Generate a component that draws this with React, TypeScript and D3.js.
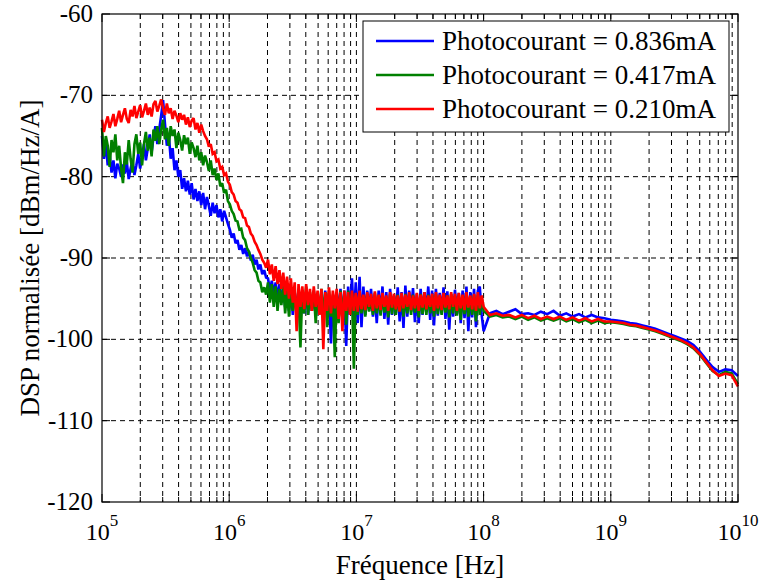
import React from "react";
import * as d3 from "d3";

// log10 of frequency (Hz) for each sample
const LOG_FREQ = [
  5.000, 5.015, 5.030, 5.045, 5.060, 5.075, 5.090, 5.105, 5.120, 5.135,
  5.150, 5.165, 5.180, 5.195, 5.210, 5.225, 5.240, 5.255, 5.270, 5.285,
  5.300, 5.315, 5.330, 5.345, 5.360, 5.375, 5.390, 5.405, 5.420, 5.435,
  5.450, 5.465, 5.480, 5.495, 5.510, 5.525, 5.540, 5.555, 5.570, 5.585,
  5.600, 5.615, 5.630, 5.645, 5.660, 5.675, 5.690, 5.705, 5.720, 5.735,
  5.750, 5.765, 5.780, 5.795, 5.810, 5.825, 5.840, 5.855, 5.870, 5.885,
  5.900, 5.915, 5.930, 5.945, 5.960, 5.975, 5.990, 6.005, 6.020, 6.035,
  6.050, 6.065, 6.080, 6.095, 6.110, 6.125, 6.140, 6.155, 6.170, 6.185,
  6.200, 6.215, 6.230, 6.245, 6.260, 6.275, 6.290, 6.305, 6.320, 6.335,
  6.350, 6.365, 6.380, 6.395, 6.410, 6.425, 6.440, 6.455, 6.470, 6.485,
  6.500, 6.515, 6.530, 6.545, 6.560, 6.575, 6.590, 6.605, 6.620, 6.635,
  6.650, 6.665, 6.680, 6.695, 6.710, 6.725, 6.740, 6.755, 6.770, 6.785,
  6.800, 6.815, 6.830, 6.845, 6.860, 6.875, 6.890, 6.905, 6.920, 6.935,
  6.950, 6.965, 6.980, 6.995, 7.010, 7.025, 7.040, 7.055, 7.070, 7.085,
  7.100, 7.115, 7.130, 7.145, 7.160, 7.175, 7.190, 7.205, 7.220, 7.235,
  7.250, 7.265, 7.280, 7.295, 7.310, 7.325, 7.340, 7.355, 7.370, 7.385,
  7.400, 7.415, 7.430, 7.445, 7.460, 7.475, 7.490, 7.505, 7.520, 7.535,
  7.550, 7.565, 7.580, 7.595, 7.610, 7.625, 7.640, 7.655, 7.670, 7.685,
  7.700, 7.715, 7.730, 7.745, 7.760, 7.775, 7.790, 7.805, 7.820, 7.835,
  7.850, 7.865, 7.880, 7.895, 7.910, 7.925, 7.940, 7.955, 7.970, 7.985,
  8.000,
  8.05, 8.10, 8.15, 8.20, 8.25, 8.30, 8.35, 8.40, 8.45, 8.50,
  8.55, 8.60, 8.65, 8.70, 8.75, 8.80, 8.85, 8.90, 8.95, 9.00,
  9.05, 9.10, 9.15, 9.20, 9.25, 9.30, 9.35, 9.40, 9.45, 9.50,
  9.55, 9.60, 9.65, 9.70, 9.75, 9.80, 9.85, 9.90, 9.95, 10.00,
];

// Photocourant = 0.836 mA (blue), dBm/Hz/A
const DSP_0836 = [
  -75.0, -77.8, -76.0, -78.6, -77.2, -79.5, -78.0, -80.2, -78.4, -79.0,
  -80.0, -78.5, -79.6, -78.2, -80.3, -79.0, -78.0, -79.8, -78.6, -77.2,
  -79.0, -77.5, -76.0, -78.0, -76.5, -74.8, -77.0, -75.2, -73.8, -76.0,
  -74.2, -72.5, -70.6, -73.5, -76.2, -74.8, -77.8, -76.5, -79.2, -78.0,
  -80.0, -79.2, -81.5, -80.2, -81.8, -80.5, -82.2, -80.8, -82.8, -81.5,
  -83.0, -81.8, -83.5, -82.0, -84.0, -82.5, -83.6, -84.8, -83.2, -84.5,
  -83.5, -85.0, -84.0, -85.5, -84.2, -85.0, -85.8, -86.5, -87.5, -87.0,
  -88.2, -87.8, -89.0, -88.4, -89.5, -88.8, -89.8, -89.2, -90.3, -89.6,
  -90.8, -90.2, -91.4, -90.8, -92.0, -91.5, -92.4,
  -92.5, -94.0, -92.8, -94.5, -93.0, -95.0, -93.2, -95.5, -93.5, -96.0,
  -93.8, -96.5, -94.0, -97.0, -94.2, -96.5, -94.0, -97.8, -94.5, -96.8,
  -94.2, -97.0, -94.5, -96.5, -94.0, -97.2, -94.8, -96.8, -94.2, -97.5,
  -94.0, -97.0, -94.5, -100.5, -94.8, -97.2, -94.2, -96.8, -93.8, -97.5,
  -94.0, -100.8, -93.5, -97.0, -92.5, -97.5, -93.0, -98.0, -92.3, -98.5,
  -93.5, -97.0, -94.0, -96.5, -93.8, -97.2, -94.5, -98.0, -94.0, -96.8,
  -93.5, -97.5, -94.2, -98.2, -93.8, -97.0, -94.6, -96.8, -93.6, -97.8,
  -94.2, -98.6, -93.4, -97.2, -94.0, -96.6, -93.7, -97.9, -94.4, -98.0,
  -93.8, -97.0, -94.2, -96.5, -93.5, -97.6, -94.0, -98.3, -93.8, -97.1,
  -94.3, -96.8, -93.6, -97.5, -94.1, -98.8, -94.5, -97.2, -93.9, -96.9,
  -94.3, -98.0, -94.0, -97.4, -93.5, -99.0, -94.2, -97.3, -93.8, -98.5,
  -94.0, -93.5, -97.0, -99.0,
  -96.8, -96.5, -96.9, -96.6, -96.3, -96.9, -96.8, -97.0, -96.6, -96.9,
  -96.5, -97.1, -96.8, -97.2, -96.9, -97.3, -97.0, -97.3, -97.4, -97.6,
  -97.7, -97.8, -98.0, -98.1, -98.3, -98.5, -98.7, -99.0, -99.3, -99.6,
  -99.9, -100.2, -100.7, -101.5, -102.5, -103.4, -104.0, -103.7, -103.8, -104.5,
];

// Photocourant = 0.417 mA (green), dBm/Hz/A
const DSP_0417 = [
  -74.0, -77.5, -75.0, -76.2, -78.8, -75.5, -77.0, -74.8, -78.0, -76.2,
  -79.0, -80.8, -77.0, -78.5, -75.5, -77.8, -79.5, -76.0, -74.8, -77.2,
  -75.8, -78.6, -76.0, -74.5, -76.8, -75.2, -77.5, -74.2, -75.6, -73.8,
  -76.0, -74.3, -73.0, -75.4, -74.0, -76.2, -73.8, -75.0, -74.2, -76.5,
  -74.6, -75.5, -76.8, -74.9, -76.0, -75.2, -77.2, -75.8, -76.5, -77.6,
  -76.2, -78.0, -77.0, -78.6, -77.4, -78.2, -79.3, -78.0, -79.8, -79.0,
  -80.4, -79.6, -81.2, -80.8, -82.0, -81.6, -83.0, -83.4, -84.2, -84.6,
  -85.4, -85.5, -86.5, -86.4, -87.5, -87.8, -88.8, -89.2, -90.0, -90.6,
  -91.5, -91.8, -92.8, -93.0, -94.2, -93.6, -94.5,
  -93.0, -95.5, -93.2, -96.0, -93.5, -96.5, -93.8, -95.8, -93.5, -96.8,
  -94.0, -97.2, -93.8, -96.5, -94.2, -97.0, -94.5, -101.0, -94.0, -96.8,
  -93.5, -97.0, -94.2, -96.5, -94.0, -98.0, -94.5, -96.8, -93.8, -97.5,
  -94.2, -98.5, -94.0, -97.2, -94.5, -102.2, -94.2, -98.0, -94.0, -97.0,
  -94.5, -98.2, -94.0, -96.8, -94.3, -103.6, -94.5, -97.0, -94.2, -96.8,
  -94.6, -97.2, -94.4, -96.6, -94.8, -97.0, -94.3, -96.8, -94.6, -97.1,
  -94.5, -96.7, -94.8, -97.3, -94.4, -96.9, -94.7, -97.0, -94.5, -96.6,
  -94.8, -97.2, -94.4, -96.8, -94.6, -97.0, -94.5, -96.7, -94.8, -97.3,
  -94.4, -96.9, -94.7, -97.0, -94.5, -96.8, -94.6, -97.2, -94.4, -96.9,
  -94.8, -97.0, -94.5, -96.7, -94.6, -97.3, -94.4, -96.8, -94.7, -97.1,
  -94.5, -97.6, -94.6, -96.9, -94.4, -97.2, -94.7, -97.0, -94.5, -97.8,
  -94.6, -97.0, -94.8, -96.5,
  -97.2, -97.0, -97.3, -97.2, -97.5, -97.2, -97.6, -97.3, -97.7, -97.4,
  -97.7, -97.4, -97.8, -97.5, -97.9, -97.6, -98.0, -97.7, -98.0, -97.9,
  -98.0, -98.1, -98.3, -98.4, -98.6, -98.8, -99.0, -99.3, -99.6, -99.9,
  -100.2, -100.6, -101.1, -101.9, -102.9, -103.9, -104.4, -104.0, -104.2, -105.5,
];

// Photocourant = 0.210 mA (red), dBm/Hz/A
const DSP_0210 = [
  -73.0, -74.5, -73.4, -72.6, -74.0, -73.2, -72.3, -73.8, -72.9, -71.9,
  -73.3, -72.4, -71.6, -72.9, -73.4, -71.8, -72.6, -71.3, -72.8, -72.0,
  -71.2, -72.7, -71.9, -71.0, -72.4, -71.5, -72.6, -71.1, -70.7, -72.0,
  -71.3, -70.5, -71.6, -72.4, -71.0, -72.2, -71.6, -72.9, -71.9, -72.5,
  -73.3, -72.2, -73.0, -72.4, -73.6, -72.7, -73.9, -73.1, -72.8, -74.2,
  -73.4, -74.6, -73.6, -74.4, -75.0, -75.4, -76.3, -76.0, -77.2, -77.0,
  -78.1, -77.9, -79.0, -78.8, -79.8, -79.6, -80.6, -81.0, -81.9, -82.2,
  -83.0, -83.2, -84.0, -84.2, -85.0, -85.1, -86.0, -86.2, -87.0, -87.3,
  -88.0, -88.4, -89.0, -89.5, -90.2, -90.6, -91.2,
  -90.2, -92.0, -90.8, -92.8, -91.0, -93.2, -91.5, -93.8, -91.8, -94.5,
  -92.3, -95.0, -92.5, -95.5, -93.0, -99.0, -93.2, -96.0, -93.5, -96.3,
  -93.2, -95.8, -93.8, -96.5, -93.5, -96.0, -94.0, -97.0, -93.8, -101.2,
  -94.2, -96.5, -93.6, -96.8, -94.0, -96.2, -93.8, -97.5, -94.2, -99.0,
  -94.0, -96.5, -94.2, -97.0, -94.0, -96.5, -94.3, -96.6, -94.0, -96.3,
  -94.5, -96.4, -94.2, -96.0, -94.4, -96.5, -94.1, -96.2, -94.5, -96.4,
  -94.3, -96.0, -94.6, -96.5, -94.2, -96.1, -94.4, -96.3, -94.6, -96.6,
  -94.3, -96.2, -94.5, -96.0, -94.2, -96.4, -94.6, -96.2, -94.3, -96.5,
  -94.5, -96.1, -94.2, -96.3, -94.6, -96.0, -94.4, -96.5, -94.2, -96.2,
  -94.5, -96.4, -94.3, -96.1, -94.6, -96.3, -94.2, -96.0, -94.4, -96.5,
  -94.3, -96.2, -94.5, -96.4, -94.2, -96.1, -94.6, -96.3, -94.4, -96.5,
  -94.2, -96.2, -94.6, -96.0,
  -97.0, -96.8, -97.1, -97.0, -97.3, -97.0, -97.4, -97.1, -97.5, -97.2,
  -97.5, -97.2, -97.6, -97.3, -97.7, -97.4, -97.8, -97.5, -97.8, -97.8,
  -97.9, -98.0, -98.2, -98.3, -98.5, -98.7, -98.9, -99.2, -99.5, -99.8,
  -100.1, -100.5, -101.0, -101.8, -102.8, -103.8, -104.5, -104.2, -104.4, -105.8,
];

const SERIES_NAMES = [
  "Photocourant = 0.836mA",
  "Photocourant = 0.417mA",
  "Photocourant = 0.210mA",
];
const SERIES_COLORS = ["#0000ff", "#008000", "#ff0000"];
const Y_TICKS = [-120, -110, -100, -90, -80, -70, -60];
const X_DECADES = [5, 6, 7, 8, 9, 10];
const X_LABEL = "Fréquence [Hz]";
const Y_LABEL = "DSP normalisée [dBm/Hz/A]";

const FONT = "'Liberation Serif', 'Times New Roman', serif";

export default function App() {
  const W = 760;
  const H = 583;
  const L = 102, R = 738, T = 14, B = 502;
  const x = d3.scaleLog().domain([1e5, 1e10]).range([L, R]);
  const y = d3.scaleLinear().domain([-120, -60]).range([B, T]);

  const majors = X_DECADES.map((d) => Math.pow(10, d));
  const minors: number[] = [];
  for (const d of X_DECADES.slice(0, -1)) {
    for (let k = 2; k <= 9; k++) minors.push(k * Math.pow(10, d));
  }
  const gridX = [...majors.slice(1, -1), ...minors];

  const series = [DSP_0836, DSP_0417, DSP_0210];
  const line = d3
    .line<[number, number]>()
    .x((p) => x(Math.pow(10, p[0])))
    .y((p) => y(p[1]));
  const pts = (s: number[]) => {
    const n = Math.min(s.length, LOG_FREQ.length);
    const out: [number, number][] = [];
    for (let i = 0; i < n; i++) out.push([LOG_FREQ[i], s[i]]);
    return out;
  };

  const legX = 363, legY = 21, legW = 366, legH = 111;

  return (
    <svg
      width={W}
      height={H}
      style={{ position: "absolute", left: 0, top: 0, background: "#fff" }}
      fontFamily={FONT}
    >
      <rect x={0} y={0} width={W} height={H} fill="#fff" />
      {/* grid */}
      <g stroke="#000" strokeWidth={1} strokeDasharray="5,4" fill="none">
        {gridX.map((v, i) => (
          <line key={"gx" + i} x1={x(v)} x2={x(v)} y1={T} y2={B} />
        ))}
        {Y_TICKS.slice(1, -1).map((v) => (
          <line key={"gy" + v} x1={L} x2={R} y1={y(v)} y2={y(v)} />
        ))}
      </g>
      {/* ticks */}
      <g stroke="#000" strokeWidth={1}>
        {majors.map((v, i) => (
          <g key={"mt" + i}>
            <line x1={x(v)} x2={x(v)} y1={B} y2={B - 8} />
            <line x1={x(v)} x2={x(v)} y1={T} y2={T + 8} />
          </g>
        ))}
        {minors.map((v, i) => (
          <g key={"nt" + i}>
            <line x1={x(v)} x2={x(v)} y1={B} y2={B - 5} />
            <line x1={x(v)} x2={x(v)} y1={T} y2={T + 5} />
          </g>
        ))}
        {Y_TICKS.map((v) => (
          <g key={"yt" + v}>
            <line x1={L} x2={L + 8} y1={y(v)} y2={y(v)} />
            <line x1={R} x2={R - 8} y1={y(v)} y2={y(v)} />
          </g>
        ))}
      </g>
      {/* data */}
      <g fill="none" strokeWidth={2.6} strokeLinejoin="miter" strokeMiterlimit={2}>
        {series.map((s, i) => (
          <path key={"s" + i} d={line(pts(s)) || ""} stroke={SERIES_COLORS[i]} />
        ))}
      </g>
      {/* frame */}
      <rect x={L} y={T} width={R - L} height={B - T} fill="none" stroke="#000" strokeWidth={1.2} />
      {/* y tick labels */}
      <g fontSize={25} textAnchor="end" fill="#000">
        {Y_TICKS.map((v) => (
          <text key={"yl" + v} x={93} y={y(v) + 8}>
            {v}
          </text>
        ))}
      </g>
      {/* x tick labels */}
      <g fontSize={24} textAnchor="middle" fill="#000">
        {X_DECADES.map((d) => (
          <text key={"xl" + d} x={x(Math.pow(10, d))} y={540}>
            10
            <tspan dy={-14} fontSize={17}>
              {d}
            </tspan>
          </text>
        ))}
      </g>
      {/* axis labels */}
      <text x={(L + R) / 2} y={574} fontSize={27} textAnchor="middle" fill="#000">
        {X_LABEL}
      </text>
      <text
        transform={`translate(39, ${(T + B) / 2}) rotate(-90)`}
        fontSize={27}
        textAnchor="middle"
        fill="#000"
      >
        {Y_LABEL}
      </text>
      {/* legend */}
      <rect x={legX} y={legY} width={legW} height={legH} fill="#fff" stroke="#000" strokeWidth={1} />
      {SERIES_NAMES.map((n, i) => {
        const ly = 41 + i * 34;
        return (
          <g key={"lg" + i}>
            <line x1={376} x2={434} y1={ly} y2={ly} stroke={SERIES_COLORS[i]} strokeWidth={2.6} />
            <text x={442} y={ly + 9} fontSize={27} fill="#000">
              {n}
            </text>
          </g>
        );
      })}
    </svg>
  );
}
